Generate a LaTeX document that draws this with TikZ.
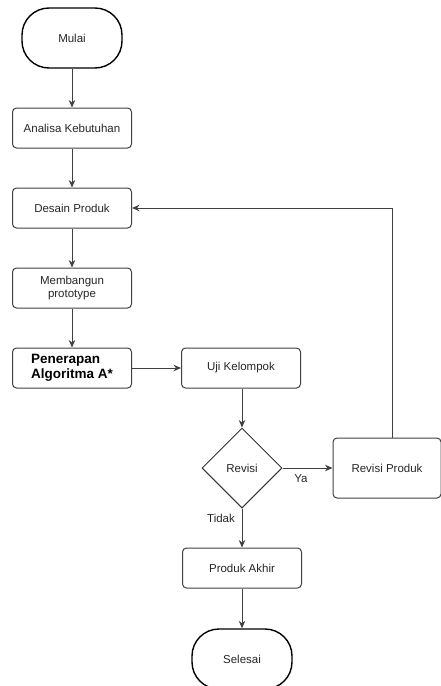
\documentclass[tikz,border=0pt]{standalone}
\usepackage{fontspec}
\setmainfont{Liberation Sans}
\usetikzlibrary{shapes.geometric,arrows.meta}
\begin{document}
\begin{tikzpicture}[x=1pt,y=-1pt,
  txt/.style={font=\fontsize{11.5}{13.5}\selectfont,text=black!85},
  proc/.style={txt,draw=black!75,line width=1pt,rounded corners=4pt,minimum width=119pt,minimum height=40pt,inner sep=2pt,align=center},
  term/.style={txt,draw=black,line width=1.4pt,rounded corners=27pt,minimum width=100pt,minimum height=60pt},
  dec/.style={txt,draw=black!80,line width=1pt,diamond,minimum width=80pt,minimum height=80pt,inner sep=0pt},
  conn/.style={draw=black!75,line width=1pt,-{Stealth[length=7.5pt,width=6.5pt]}},
  lbl/.style={txt}]
\useasboundingbox (0,0) rectangle (441,686);
\node[term] (mulai) at (72,38) {Mulai};
\node[proc] (analisa) at (72,128) {Analisa Kebutuhan};
\node[proc] (desain) at (72,208) {Desain Produk};
\node[proc] (bangun) at (72,288) {Membangun\\prototype};
\node[proc,align=left,font=\fontsize{13.5}{15.5}\selectfont\bfseries,text=black] (terap) at (72,368) {Penerapan\\Algoritma A*};
\node[proc] (uji) at (241,368) {Uji Kelompok};
\node[dec] (revisi) at (242,468) {Revisi};
\node[proc,minimum width=108pt,minimum height=60pt] (revprod) at (387,468) {Revisi Produk};
\node[proc] (akhir) at (242,568) {Produk Akhir};
\node[term] (selesai) at (242,659) {Selesai};
\coordinate (c1) at (392,208);
\draw[conn] (mulai) -- (analisa);
\draw[conn] (analisa) -- (desain);
\draw[conn] (desain) -- (bangun);
\draw[conn] (bangun) -- (terap);
\draw[conn] (terap) -- (uji);
\draw[conn] (uji.south -| revisi.north) -- (revisi.north);
\draw[conn] (revisi) -- (revprod);
\draw[conn] (revisi) -- (akhir);
\draw[conn] (akhir) -- (selesai);
\draw[conn] (revprod.north -| c1) -- (c1) -- (desain.east);
\node[lbl] (ya) at (301,479) {Ya};
\node[lbl] (tidak) at (221,518) {Tidak};
\end{tikzpicture}
\end{document}
